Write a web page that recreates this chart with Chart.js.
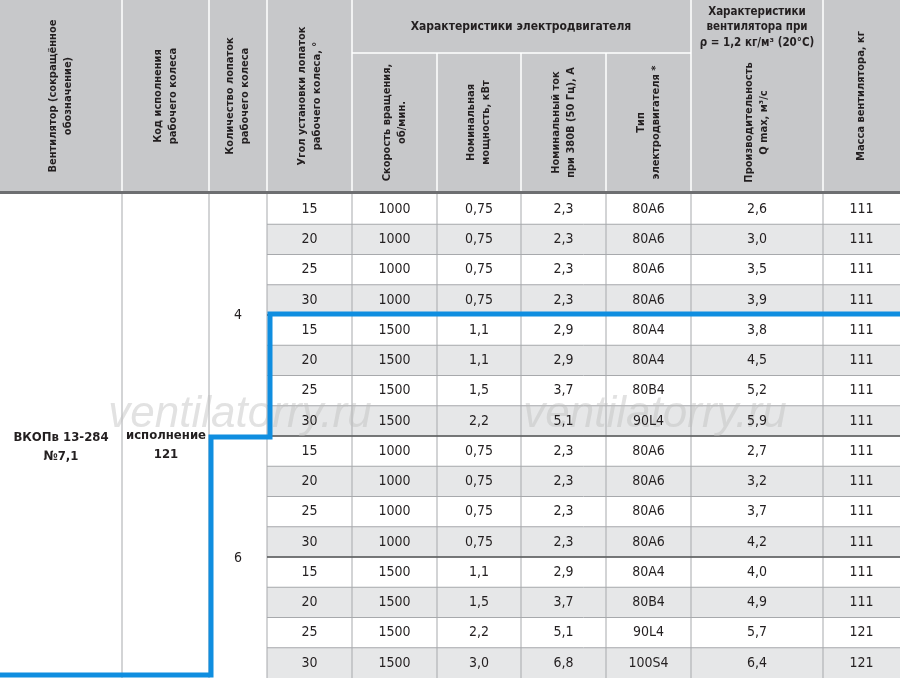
<!DOCTYPE html>
<html>
<head>
<meta charset="utf-8">
<script src="https://cdn.jsdelivr.net/npm/chart.js@4"></script>
<style>
  html, body { margin: 0; padding: 0; background: #fff; }
  #wrap { width: 900px; height: 678px; }
</style>
</head>
<body>
<div id="wrap"><canvas id="tabela"></canvas></div>
<script>
const FONTE = '"Liberation Sans Narrow", "DejaVu Sans Condensed", sans-serif';

// column edges, in table units
const colunas = [0, 122, 209, 267, 352, 437, 521, 606, 691, 823, 900];
const topoDados = 194;
const alturaLinha = 30.25;

// angle, rpm, kW, A, motor, Q, kg
const linhas = [
  [15, 1000, '0,75', '2,3', '80A6', '2,6', 111],
  [20, 1000, '0,75', '2,3', '80A6', '3,0', 111],
  [25, 1000, '0,75', '2,3', '80A6', '3,5', 111],
  [30, 1000, '0,75', '2,3', '80A6', '3,9', 111],
  [15, 1500, '1,1', '2,9', '80A4', '3,8', 111],
  [20, 1500, '1,1', '2,9', '80A4', '4,5', 111],
  [25, 1500, '1,5', '3,7', '80B4', '5,2', 111],
  [30, 1500, '2,2', '5,1', '90L4', '5,9', 111],
  [15, 1000, '0,75', '2,3', '80A6', '2,7', 111],
  [20, 1000, '0,75', '2,3', '80A6', '3,2', 111],
  [25, 1000, '0,75', '2,3', '80A6', '3,7', 111],
  [30, 1000, '0,75', '2,3', '80A6', '4,2', 111],
  [15, 1500, '1,1', '2,9', '80A4', '4,0', 111],
  [20, 1500, '1,5', '3,7', '80B4', '4,9', 111],
  [25, 1500, '2,2', '5,1', '90L4', '5,7', 121],
  [30, 1500, '3,0', '6,8', '100S4', '6,4', 121]
];

const cabecalhos = [
  [0, ['Вентилятор (сокращённое', 'обозначение)'], 0, 192],
  [1, ['Код исполнения', 'рабочего колеса'], 0, 192],
  [2, ['Количество лопаток', 'рабочего колеса'], 0, 192],
  [3, ['Угол установки лопаток', 'рабочего колеса, °'], 0, 192],
  [4, ['Скорость вращения,', 'об/мин.'], 53, 192],
  [5, ['Номинальная', 'мощность, кВт'], 53, 192],
  [6, ['Номинальный ток', 'при 380В (50 Гц), А'], 53, 192],
  [7, ['Тип', 'электродвигателя *'], 53, 192],
  [8, ['Производительность', 'Q max, м³/с'], 53, 192],
  [9, ['Масса вентилятора, кг'], 0, 192]
];

const desenhaTabela = {
  id: 'desenhaTabela',
  afterDraw(chart) {
    const ctx = chart.ctx;
    const sx = v => chart.scales.x.getPixelForValue(v);
    const sy = v => chart.scales.y.getPixelForValue(v);
    const yLinha = i => topoDados + i * alturaLinha;

    ctx.save();
    // header background
    ctx.fillStyle = '#c7c8ca';
    ctx.fillRect(sx(0), sy(0), sx(900) - sx(0), sy(192) - sy(0));
    ctx.strokeStyle = '#ffffff';
    ctx.lineWidth = 1.5;
    ctx.beginPath();
    colunas.slice(1, -1).forEach(c => { ctx.moveTo(sx(c), sy(c >= 437 && c <= 606 ? 53 : 0)); ctx.lineTo(sx(c), sy(192)); });
    ctx.moveTo(sx(352), sy(53)); ctx.lineTo(sx(691), sy(53));
    ctx.stroke();
    ctx.fillStyle = '#6d6e71';
    ctx.fillRect(sx(0), sy(191), sx(900) - sx(0), 3);

    // header text
    ctx.fillStyle = '#231f20';
    ctx.font = 'bold 12px ' + FONTE;
    ctx.textAlign = 'center';
    ctx.textBaseline = 'middle';
    ctx.fillText('Характеристики электродвигателя', sx(521), sy(27));
    ctx.font = 'bold 11.5px ' + FONTE;
    ctx.fillText('Характеристики', sx(757), sy(12));
    ctx.fillText('вентилятора при', sx(757), sy(27));
    ctx.fillText('ρ = 1,2 кг/м³ (20°C)', sx(757), sy(43));
    ctx.font = 'bold 11px ' + FONTE;
    cabecalhos.forEach(([c, txt, y0, y1]) => {
      const cx = (sx(colunas[c]) + sx(colunas[c + 1])) / 2;
      const cy = (sy(y0) + sy(y1)) / 2;
      ctx.save();
      ctx.translate(cx, cy);
      ctx.rotate(-Math.PI / 2);
      txt.forEach((t, k) => ctx.fillText(t, 0, (k - (txt.length - 1) / 2) * 15));
      ctx.restore();
    });

    // row stripes
    linhas.forEach((l, i) => {
      if (i % 2 === 1) {
        ctx.fillStyle = '#e6e7e8';
        ctx.fillRect(sx(267), sy(yLinha(i)), sx(900) - sx(267), sy(yLinha(i + 1)) - sy(yLinha(i)));
      }
    });

    // grid
    ctx.strokeStyle = '#a7a9ac';
    ctx.lineWidth = 1;
    ctx.beginPath();
    colunas.slice(1, -1).forEach(c => { ctx.moveTo(sx(c), sy(topoDados)); ctx.lineTo(sx(c), sy(678)); });
    linhas.forEach((l, i) => {
      if (i > 0) { ctx.moveTo(sx(267), sy(yLinha(i))); ctx.lineTo(sx(900), sy(yLinha(i))); }
    });
    ctx.stroke();
    ctx.strokeStyle = '#58595b';
    ctx.lineWidth = 1.5;
    ctx.beginPath();
    [4, 8, 12].forEach(i => { ctx.moveTo(sx(i === 8 ? 209 : 267), sy(yLinha(i))); ctx.lineTo(sx(900), sy(yLinha(i))); });
    ctx.stroke();

    // watermark
    ctx.fillStyle = 'rgba(190,190,190,0.45)';
    ctx.font = 'italic 44px "Liberation Sans", sans-serif';
    ctx.fillText('ventilatorry.ru', sx(240), sy(415));
    ctx.fillText('ventilatorry.ru', sx(655), sy(415));

    // body text
    ctx.fillStyle = '#231f20';
    ctx.font = '14px ' + FONTE;
    linhas.forEach((l, i) => {
      const cy = (sy(yLinha(i)) + sy(yLinha(i + 1))) / 2;
      l.forEach((v, k) => {
        const cx = (sx(colunas[k + 3]) + sx(colunas[k + 4])) / 2;
        ctx.fillText(String(v), cx, cy);
      });
    });
    ctx.fillText('4', sx(238), sy(315));
    ctx.fillText('6', sx(238), sy(558));
    ctx.font = 'bold 13px ' + FONTE;
    ctx.fillText('ВКОПв 13-284', sx(61), sy(438));
    ctx.fillText('№7,1', sx(61), sy(457));
    ctx.fillText('исполнение', sx(166), sy(436));
    ctx.fillText('121', sx(166), sy(455));

    // blue outline
    ctx.strokeStyle = '#0f8ee0';
    ctx.lineWidth = 5;
    ctx.lineJoin = 'miter';
    ctx.beginPath();
    ctx.moveTo(sx(900), sy(314));
    ctx.lineTo(sx(270), sy(314));
    ctx.lineTo(sx(270), sy(437));
    ctx.lineTo(sx(211), sy(437));
    ctx.lineTo(sx(211), sy(675));
    ctx.lineTo(sx(0), sy(675));
    ctx.stroke();
    ctx.restore();
  }
};

new Chart(document.querySelector('#tabela'), {
  type: 'scatter',
  data: { datasets: [{ data: [] }] },
  options: {
    responsive: true,
    maintainAspectRatio: false,
    animation: false,
    layout: { padding: 0 },
    plugins: { legend: { display: false }, tooltip: { enabled: false } },
    scales: {
      x: { type: 'linear', min: 0, max: 900, display: false },
      y: { type: 'linear', min: 0, max: 678, reverse: true, display: false }
    }
  },
  plugins: [desenhaTabela]
});
</script>
</body>
</html>
